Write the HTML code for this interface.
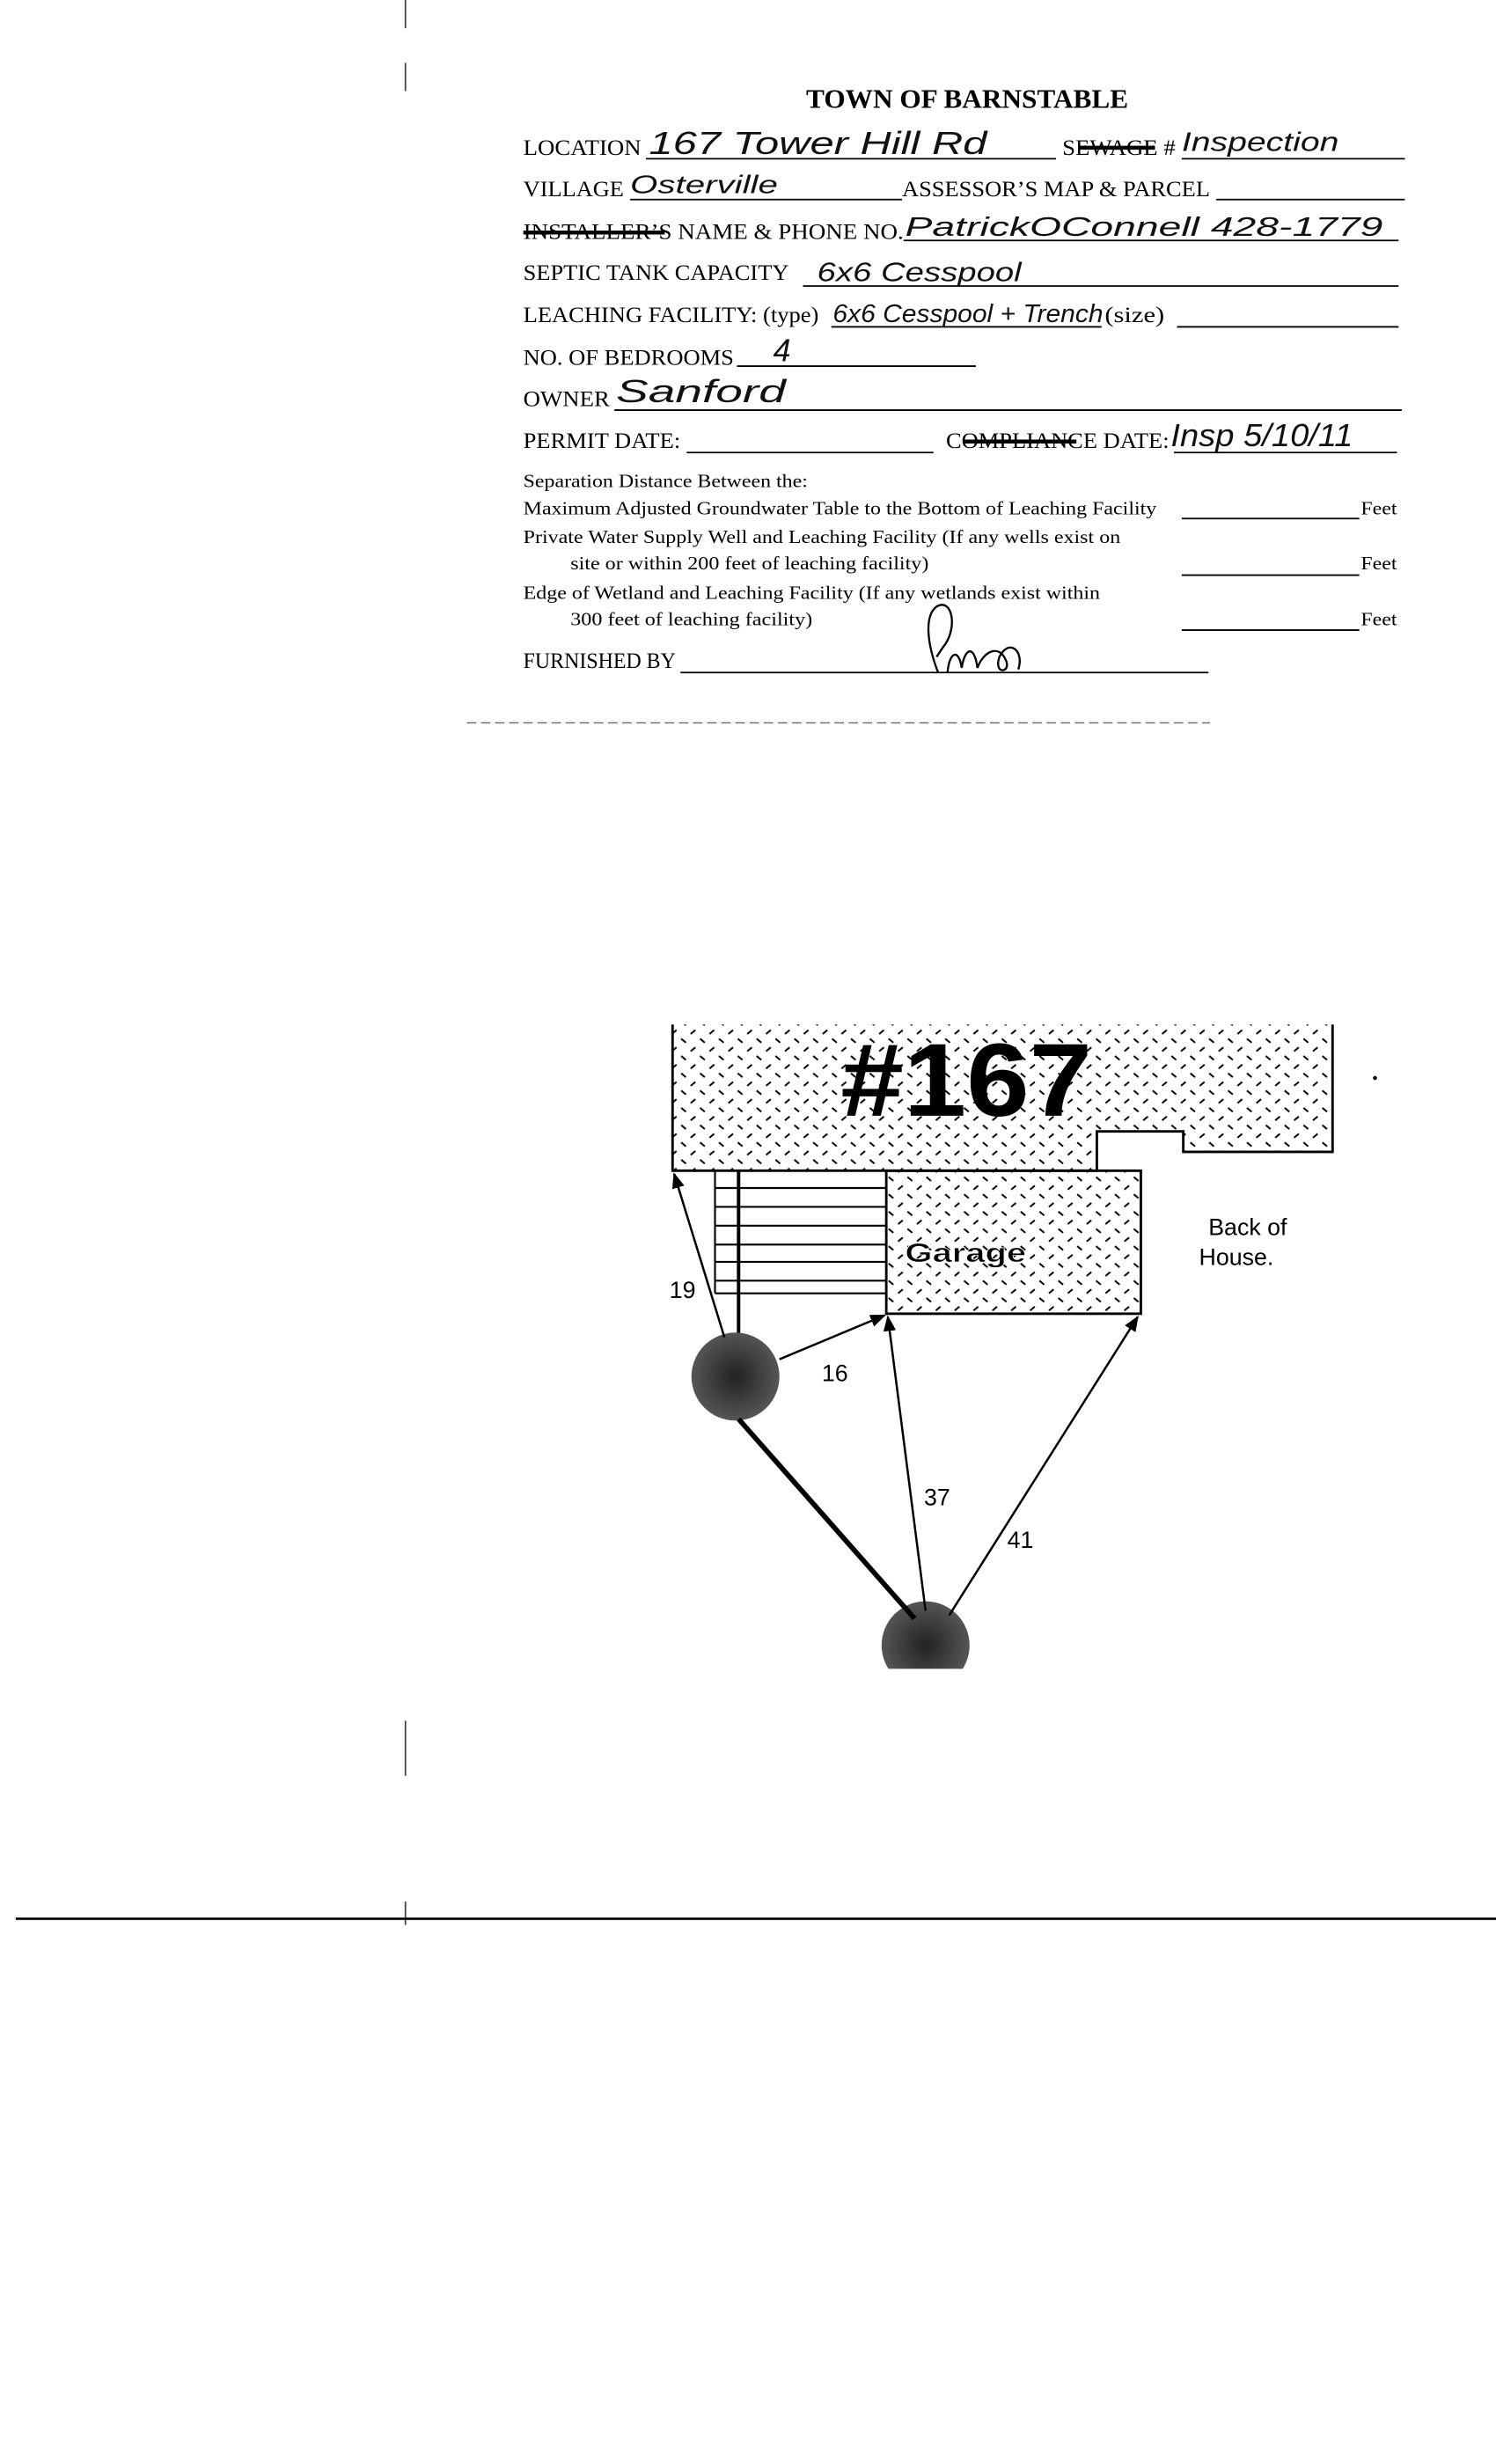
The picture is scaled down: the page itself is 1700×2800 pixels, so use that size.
<!DOCTYPE html>
<html><head><meta charset="utf-8"><style>
html,body{margin:0;padding:0;background:#fff;}
svg{display:block;}
.f{font-family:"Liberation Serif",serif;fill:#000;}
.h{font-family:"Liberation Sans",sans-serif;fill:#111;font-style:italic;}
</style></head><body>
<svg width="1700" height="2800" viewBox="0 0 952 1568" preserveAspectRatio="none" xmlns="http://www.w3.org/2000/svg">
<defs>
<pattern id="hat" width="12" height="11" patternUnits="userSpaceOnUse">
<line x1="1.5" y1="1" x2="4.5" y2="3.5" stroke="#000" stroke-width="1.1"/>
<line x1="7.5" y1="9" x2="10.5" y2="6.5" stroke="#000" stroke-width="1.1"/>
</pattern>
<marker id="ar" markerWidth="10" markerHeight="10" refX="9" refY="5" orient="auto" markerUnits="userSpaceOnUse">
<path d="M0,1 L10,5 L0,9 Z" fill="#000"/>
</marker>
<radialGradient id="cg"><stop offset="0" stop-color="#222"/><stop offset="1" stop-color="#555"/></radialGradient>
</defs>
<rect width="952" height="1568" fill="#fff"/>

<!-- page edge lines -->
<line x1="258" y1="0" x2="258" y2="18" stroke="#444" stroke-width="1"/>
<line x1="258" y1="40" x2="258" y2="58" stroke="#444" stroke-width="1"/>
<line x1="258" y1="1095" x2="258" y2="1130" stroke="#444" stroke-width="1"/>
<line x1="258" y1="1210" x2="258" y2="1225" stroke="#444" stroke-width="1"/>
<line x1="10" y1="1221" x2="952" y2="1221" stroke="#000" stroke-width="1.5"/>
<line x1="297" y1="460" x2="770" y2="460" stroke="#666" stroke-width="0.8" stroke-dasharray="6 3"/>

<!-- Title -->
<text class="f" x="513" y="68.5" font-size="17" font-weight="bold" textLength="205" lengthAdjust="spacingAndGlyphs">TOWN OF BARNSTABLE</text>

<g class="f" font-size="14">
<text x="333" y="98.5" textLength="75" lengthAdjust="spacingAndGlyphs">LOCATION</text>
<text x="676" y="98.5" textLength="72" lengthAdjust="spacingAndGlyphs">SEWAGE #</text>
<text x="333" y="125" textLength="64" lengthAdjust="spacingAndGlyphs">VILLAGE</text>
<text x="574" y="125" textLength="196" lengthAdjust="spacingAndGlyphs">ASSESSOR’S MAP &amp; PARCEL</text>
<text x="333" y="152" textLength="242" lengthAdjust="spacingAndGlyphs">INSTALLER’S NAME &amp; PHONE NO.</text>
<text x="333" y="178" textLength="169" lengthAdjust="spacingAndGlyphs">SEPTIC TANK CAPACITY</text>
<text x="333" y="205" textLength="188" lengthAdjust="spacingAndGlyphs">LEACHING FACILITY: (type)</text>
<text x="703" y="205" textLength="38" lengthAdjust="spacingAndGlyphs">(size)</text>
<text x="333" y="232" textLength="134" lengthAdjust="spacingAndGlyphs">NO. OF BEDROOMS</text>
<text x="333" y="258.4" textLength="55" lengthAdjust="spacingAndGlyphs">OWNER</text>
<text x="333" y="285" textLength="100" lengthAdjust="spacingAndGlyphs">PERMIT DATE:</text>
<text x="602" y="285" textLength="142" lengthAdjust="spacingAndGlyphs">COMPLIANCE DATE:</text>
<text x="333" y="425" textLength="97" lengthAdjust="spacingAndGlyphs">FURNISHED BY</text>
</g>
<g class="f" font-size="12">
<text x="333" y="310" textLength="181" lengthAdjust="spacingAndGlyphs">Separation Distance Between the:</text>
<text x="333" y="327.3" textLength="403" lengthAdjust="spacingAndGlyphs">Maximum Adjusted Groundwater Table to the Bottom of Leaching Facility</text>
<text x="333" y="345.4" textLength="380" lengthAdjust="spacingAndGlyphs">Private Water Supply Well and Leaching Facility (If any wells exist on</text>
<text x="363" y="362.4" textLength="228" lengthAdjust="spacingAndGlyphs">site or within 200 feet of leaching facility)</text>
<text x="333" y="381" textLength="367" lengthAdjust="spacingAndGlyphs">Edge of Wetland and Leaching Facility (If any wetlands exist within</text>
<text x="363" y="398" textLength="154" lengthAdjust="spacingAndGlyphs">300 feet of leaching facility)</text>
<text x="866" y="327.3" textLength="23" lengthAdjust="spacingAndGlyphs">Feet</text>
<text x="866" y="362.4" textLength="23" lengthAdjust="spacingAndGlyphs">Feet</text>
<text x="866" y="398" textLength="23" lengthAdjust="spacingAndGlyphs">Feet</text>
</g>

<!-- strikes -->
<g stroke="#000" stroke-width="2.5">
<line x1="686" y1="94" x2="735" y2="94"/>
<line x1="333" y1="148" x2="423" y2="148"/>
<line x1="614" y1="281" x2="685" y2="281"/>
</g>

<!-- underlines -->
<g stroke="#000" stroke-width="1">
<line x1="411" y1="101" x2="672" y2="101"/>
<line x1="752" y1="101" x2="894" y2="101"/>
<line x1="401" y1="127" x2="574" y2="127"/>
<line x1="774" y1="127" x2="894" y2="127"/>
<line x1="575" y1="153" x2="890" y2="153"/>
<line x1="511" y1="182" x2="890" y2="182"/>
<line x1="529" y1="208" x2="701" y2="208"/>
<line x1="749" y1="208" x2="890" y2="208"/>
<line x1="469" y1="233" x2="621" y2="233"/>
<line x1="391" y1="261" x2="892" y2="261"/>
<line x1="437" y1="288" x2="594" y2="288"/>
<line x1="747" y1="288" x2="889" y2="288"/>
<line x1="752" y1="330" x2="865" y2="330"/>
<line x1="752" y1="366" x2="865" y2="366"/>
<line x1="752" y1="401" x2="865" y2="401"/>
<line x1="433" y1="428" x2="769" y2="428"/>
</g>

<!-- handwriting -->
<g class="h">
<text x="413" y="98" font-size="20" textLength="215" lengthAdjust="spacingAndGlyphs">167 Tower Hill Rd</text>
<text x="752" y="96" font-size="17" textLength="100" lengthAdjust="spacingAndGlyphs">Inspection</text>
<text x="401" y="123" font-size="16" textLength="94" lengthAdjust="spacingAndGlyphs">Osterville</text>
<text x="576" y="150" font-size="17" textLength="304" lengthAdjust="spacingAndGlyphs">PatrickOConnell  428-1779</text>
<text x="520" y="179" font-size="17" textLength="130" lengthAdjust="spacingAndGlyphs">6x6 Cesspool</text>
<text x="530" y="205" font-size="16" textLength="172" lengthAdjust="spacingAndGlyphs">6x6 Cesspool + Trench</text>
<text x="492" y="230" font-size="20">4</text>
<text x="392" y="256" font-size="20" textLength="108" lengthAdjust="spacingAndGlyphs">Sanford</text>
<text x="745" y="284" font-size="20" textLength="116" lengthAdjust="spacingAndGlyphs">Insp 5/10/11</text>
</g>
<path d="M597,428 C590,410 588,392 596,386 C606,380 610,400 600,412 L596,418 M603,428 C604,415 610,412 612,425 C614,412 620,410 622,425 C626,414 636,410 640,420 C644,428 632,430 636,418 C642,406 652,414 648,426" fill="none" stroke="#000" stroke-width="1.3"/>

<!-- DIAGRAM -->
<!-- house -->
<path d="M428,652 L428,745 L698,745 L698,720 L753,720 L753,733 L848,733 L848,652 Z" fill="url(#hat)"/>
<path d="M428,652 L428,745 L698,745 L698,720 L753,720 L753,733 L848,733 L848,652" fill="none" stroke="#000" stroke-width="1.6"/>
<text x="615" y="710" font-family="Liberation Sans, sans-serif" font-weight="bold" font-size="66" text-anchor="middle" textLength="160" lengthAdjust="spacingAndGlyphs" fill="#000">#167</text>

<!-- garage -->
<rect x="564" y="745" width="162" height="91" fill="url(#hat)" stroke="#000" stroke-width="1.6"/>
<text x="576" y="803" font-family="Liberation Sans, sans-serif" font-weight="bold" font-size="17" fill="#000" stroke="#fff" stroke-width="0.4" textLength="77" lengthAdjust="spacingAndGlyphs">Garage</text>

<!-- stairs -->
<g stroke="#000" stroke-width="1.2">
<line x1="455" y1="745" x2="455" y2="823"/>
<line x1="455" y1="756" x2="564" y2="756"/>
<line x1="455" y1="768" x2="564" y2="768"/>
<line x1="455" y1="780" x2="564" y2="780"/>
<line x1="455" y1="792" x2="564" y2="792"/>
<line x1="455" y1="803" x2="564" y2="803"/>
<line x1="455" y1="815" x2="564" y2="815"/>
<line x1="455" y1="823" x2="564" y2="823"/>
</g>
<line x1="470" y1="745" x2="470" y2="860" stroke="#000" stroke-width="2.2"/>

<text x="769" y="786" font-family="Liberation Sans, sans-serif" font-size="15" fill="#000">Back of</text>
<text x="763" y="805" font-family="Liberation Sans, sans-serif" font-size="15" fill="#000">House.</text>
<circle cx="875" cy="686" r="1.3" fill="#000"/>

<!-- circles -->
<circle cx="468" cy="876" r="28" fill="url(#cg)"/>
<clipPath id="cc"><rect x="540" y="1000" width="100" height="62"/></clipPath>
<circle cx="589" cy="1047" r="28" fill="url(#cg)" clip-path="url(#cc)"/>

<!-- connectors -->
<line x1="470" y1="903" x2="582" y2="1030" stroke="#000" stroke-width="3.2"/>
<g stroke="#000" stroke-width="1.4" fill="none">
<line x1="461" y1="851" x2="429" y2="747" marker-end="url(#ar)"/>
<line x1="496" y1="865" x2="563" y2="837" marker-end="url(#ar)"/>
<line x1="589" y1="1025" x2="565" y2="838" marker-end="url(#ar)"/>
<line x1="604" y1="1028" x2="724" y2="838" marker-end="url(#ar)"/>
</g>
<g font-family="Liberation Sans, sans-serif" font-size="15" fill="#000">
<text x="426" y="826">19</text>
<text x="523" y="879">16</text>
<text x="588" y="958">37</text>
<text x="641" y="985">41</text>
</g>
</svg>
</body></html>
